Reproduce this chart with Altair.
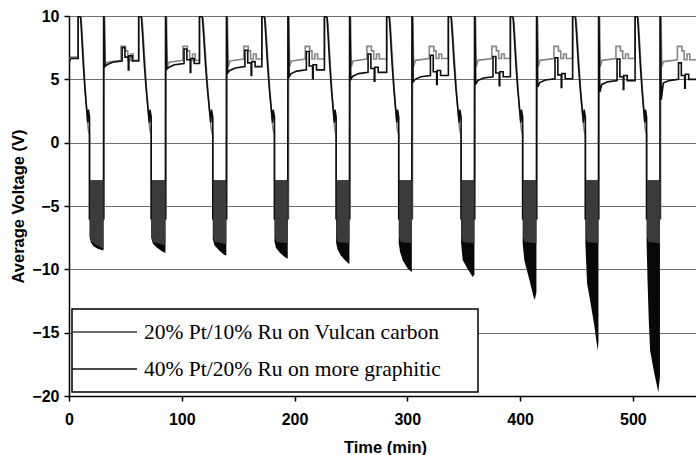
import altair as alt
import pandas as pd

# ---------------- data ----------------
series_names = ["20% Pt/10% Ru on Vulcan carbon", "40% Pt/20% Ru on more graphitic"]
series_colors = ["#858585", "#0d0d0d"]

x_ticks = [0, 100, 200, 300, 400, 500]
y_ticks = [-20, -15, -10, -5, 0, 5, 10]
X_MAX = 556

# time (min) at which each cycle jumps to +10 V, when the dense negative band starts / ends
peak_time  = [8.1, 61.8, 115.7, 171.0, 226.5, 281.7, 336.4, 391.4, 446.6, 502.0]
band_start = [18.2, 72.9, 127.5, 182.2, 236.9, 292.4, 347.7, 402.3, 457.9, 512.2]
band_end   = [30.6, 85.5, 139.5, 194.0, 248.7, 304.0, 359.5, 414.5, 469.5, 524.0]

# plateau levels (V) of each positive segment (11 segments)
gray_base  = [6.75, 6.5, 6.5, 6.6, 6.6, 6.6, 6.65, 6.65, 6.65, 6.65, 6.55]
black_base = [6.65, 6.45, 6.25, 6.0, 5.75, 5.55, 5.3, 5.2, 5.05, 4.9, 5.0]
black_dip  = [6.4, 6.0, 5.8, 5.5, 5.2, 5.0, 4.8, 4.6, 4.4, 4.0, 3.4]
black_step = [7.6, 7.5, 7.4, 7.3, 7.2, 7.0, 6.9, 6.8, 6.7, 6.6, 6.3]

# shape of the decay from +10 V to the band (fraction of peak->band interval, volts)
decay_frac  = [0.0, 0.03, 0.22, 0.30, 0.45, 0.60, 0.75, 0.85, 0.90, 0.97, 1.0]
decay_gray  = [10.0, 10.0, 10.0, 9.4, 7.0, 4.6, 2.6, 1.4, 1.0, 0.7, 0.8]
decay_black = [10.0, 10.0, 9.9, 8.7, 6.2, 4.2, 2.6, 1.6, 2.6, 2.2, 2.0]

# lower envelope of the dense band (black series)
floor_t = [
    [18.2, 19.5, 22.0, 26.0, 30.0, 30.6],
    [72.9, 74.5, 78.0, 82.0, 85.0, 85.5],
    [127.5, 129.0, 133.0, 137.0, 139.0, 139.5],
    [182.2, 183.5, 187.0, 191.0, 193.5, 194.0],
    [236.9, 238.0, 241.0, 245.0, 248.2, 248.7],
    [292.4, 293.5, 296.0, 300.0, 303.4, 304.0],
    [347.7, 349.1, 353.0, 358.0, 359.5],
    [402.3, 403.8, 408.2, 412.6, 413.6, 414.5],
    [457.9, 459.4, 462.0, 465.9, 468.8, 469.5],
    [512.2, 513.1, 514.0, 515.3, 519.0, 522.6, 524.0],
]
floor_v = [
    [-7.4, -7.9, -8.2, -8.4, -8.5, -8.5],
    [-7.5, -8.0, -8.3, -8.55, -8.7, -8.7],
    [-7.6, -8.1, -8.5, -8.8, -8.9, -8.9],
    [-7.8, -8.3, -8.7, -9.0, -9.15, -9.15],
    [-7.9, -8.4, -8.9, -9.3, -9.55, -9.55],
    [-7.95, -8.6, -9.3, -9.9, -10.2, -10.2],
    [-7.95, -9.26, -9.9, -10.6, -10.4],
    [-7.95, -9.3, -10.8, -12.4, -12.2, -11.8],
    [-7.95, -11.1, -12.4, -14.5, -16.4, -15.8],
    [-7.95, -11.1, -13.7, -16.4, -18.2, -19.7, -18.5],
]
gray_floor_end = [-8.4, -8.1, -8.0, -7.95, -7.95, -7.95, -7.95, -7.95, -7.95, -7.95]
band_top_black = -2.97
band_top_gray = -3.03


# ---------------- build the polylines ----------------
def plateau_gray(k, s):
    b = gray_base[k]
    if s is None:
        return [(0.0, 6.45), (1.5, b)]
    return [(s + 0.6, -6.0), (s + 0.7, 10.0), (s + 1.0, 10.0), (s + 1.6, 6.0), (s + 3.2, b - 0.15),
            (s + 15.5, b), (s + 15.5, 7.6), (s + 19.5, 7.6), (s + 19.5, 7.25), (s + 21.5, 7.25),
            (s + 21.5, b), (s + 24.0, b), (s + 24.0, 7.0), (s + 26.5, 7.0), (s + 26.5, b)]


def plateau_black(k, s):
    b = black_base[k]
    if s is None:
        return [(0.0, 6.35), (1.5, b)]
    return [(s, -6.0), (s + 0.1, 10.0), (s + 0.4, 10.0), (s + 1.2, black_dip[k]), (s + 3.0, b - 0.3),
            (s + 8.0, b - 0.1), (s + 16.5, b), (s + 16.5, black_step[k]), (s + 19.0, black_step[k]),
            (s + 19.0, b + 0.3), (s + 22.0, b + 0.3), (s + 22.0, b - 0.7), (s + 22.5, b - 0.7),
            (s + 22.5, b + 0.4), (s + 25.5, b + 0.4), (s + 25.5, b)]


rows = []
for sidx, (plat, dec, base) in enumerate([(plateau_gray, decay_gray, gray_base),
                                          (plateau_black, decay_black, black_base)]):
    pts = []
    for k in range(11):
        s = None if k == 0 else band_end[k - 1]
        pts += plat(k, s)
        if k < 10:
            p, bs = peak_time[k], band_start[k]
            pts.append((p, base[k]))
            for f, v in zip(decay_frac, dec):
                pts.append((p + f * (bs - p), v))
            pts.append((bs, -6.0))
        else:
            pts.append((X_MAX, base[k]))
    for i, (t, v) in enumerate(pts):
        rows.append({"series": series_names[sidx], "t": t, "v": v, "i": i})
line_df = pd.DataFrame(rows)

black_rows, gray_rows = [], []
for k in range(10):
    for t, v in zip(floor_t[k], floor_v[k]):
        black_rows.append({"band": k, "t": t, "v": band_top_black, "v2": v})
    gs, ge = band_start[k] + 0.4, band_end[k]
    for t, v in [(gs, -7.4), (gs + 1.3, -7.85), (ge, gray_floor_end[k])]:
        gray_rows.append({"band": k, "t": t, "v": band_top_gray, "v2": v})
black_df = pd.DataFrame(black_rows)
gray_df = pd.DataFrame(gray_rows)

# ---------------- chart ----------------
SANS = "Liberation Sans"
X = alt.X("t:Q", scale=alt.Scale(domain=[0, X_MAX], nice=False, zero=False),
          axis=alt.Axis(values=x_ticks, title="Time (min)", grid=False, labelFlush=False,
                        domainColor="black", domainWidth=1.5, tickColor="black", tickWidth=1.5,
                        tickSize=5, labelFont=SANS, labelFontWeight="bold", labelFontSize=16,
                        labelColor="black", labelPadding=10, titleFont=SANS, titleFontWeight="bold",
                        titleFontSize=16.5, titleColor="black", titleX=316, titleY=51,
                        titleBaseline="middle", titleAlign="center"))
Y = alt.Y("v:Q", scale=alt.Scale(domain=[-20, 10], nice=False, zero=False),
          axis=alt.Axis(values=y_ticks, title="Average Voltage (V)", grid=True, gridColor="#6e6e6e",
                        gridWidth=1.2, domainColor="black", domainWidth=1.5, tickColor="black",
                        tickWidth=1.5, tickSize=5, labelFont=SANS, labelFontWeight="bold",
                        labelFontSize=16, labelColor="black", labelPadding=5, titleFont=SANS,
                        titleFontWeight="bold", titleFontSize=16.5, titleColor="black",
                        titleAngle=270, titleX=-51, titleY=190, titleBaseline="middle",
                        titleAlign="center"))

lines = alt.Chart(line_df).mark_line(strokeWidth=1.6, clip=True).encode(
    x=X, y=Y,
    color=alt.Color("series:N", scale=alt.Scale(domain=series_names, range=series_colors), legend=None),
    order=alt.Order("i:Q"),
)
black_band = alt.Chart(black_df).mark_area(color="#080808", clip=True, opacity=1).encode(
    x=X, y=Y, y2="v2:Q", detail="band:N")
gray_band = alt.Chart(gray_df).mark_area(color="#3b3b3b", clip=True, opacity=1).encode(
    x=X, y=Y, y2="v2:Q", detail="band:N")

one = pd.DataFrame({"a": [0]})
legend_box = alt.Chart(one).mark_rect(fill="white", stroke="black", strokeWidth=1.5).encode(
    x=alt.value(3), x2=alt.value(409), y=alt.value(293), y2=alt.value(376))
legend_parts = [legend_box]
for idx, yy in enumerate([316, 353]):
    legend_parts.append(alt.Chart(one).mark_rule(color=series_colors[idx] if idx else "#3c3c3c",
                                                 strokeWidth=1.5).encode(
        x=alt.value(3), x2=alt.value(68), y=alt.value(yy)))
    legend_parts.append(alt.Chart(one).mark_text(
        text=series_names[idx], font="Liberation Serif", fontSize=21.5, align="left",
        baseline="middle", color="black").encode(x=alt.value(75), y=alt.value(yy + 1)))

chart = alt.layer(lines, black_band, gray_band, *legend_parts).properties(
    width=627, height=380,
    autosize=alt.AutoSizeParams(type="none"),
    padding={"left": 69, "top": 16, "right": 0, "bottom": 59},
).configure_view(stroke=None).configure(background="white")

chart.save("out.html", embed_options={"renderer": "svg", "actions": False})
